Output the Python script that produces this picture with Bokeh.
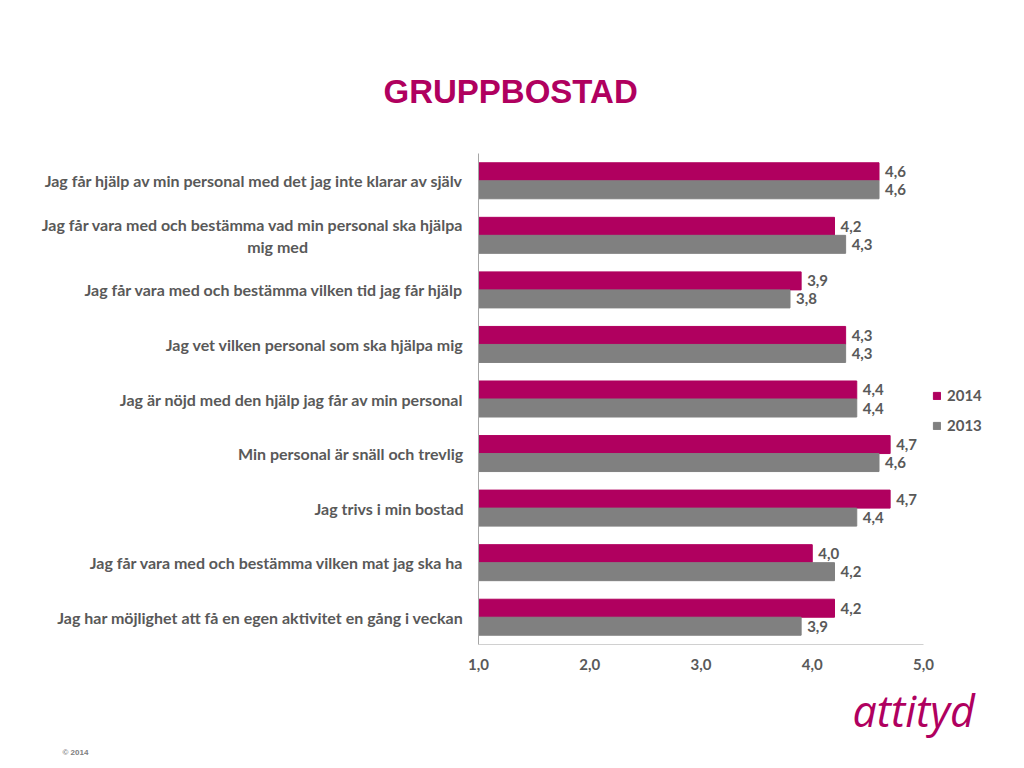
from bokeh.plotting import figure
from bokeh.models import (FactorRange, Range1d, FixedTicker, Title, Legend, LegendItem,
                          ColumnDataSource)
from bokeh.transform import dodge
from bokeh.core.properties import value
from bokeh.embed import file_html
from bokeh.resources import INLINE

title_text = "GRUPPBOSTAD"
categories = [
    "Jag får hjälp av min personal med det jag inte klarar av själv",
    "Jag får vara med och bestämma vad min personal ska hjälpa\nmig med",
    "Jag får vara med och bestämma vilken tid jag får hjälp",
    "Jag vet vilken personal som ska hjälpa mig",
    "Jag är nöjd med den hjälp jag får av min personal",
    "Min personal är snäll och trevlig",
    "Jag trivs i min bostad",
    "Jag får vara med och bestämma vilken mat jag ska ha",
    "Jag har möjlighet att få en egen aktivitet en gång i veckan",
]
values_2014 = [4.6, 4.2, 3.9, 4.3, 4.4, 4.7, 4.7, 4.0, 4.2]
values_2013 = [4.6, 4.3, 3.8, 4.3, 4.4, 4.6, 4.4, 4.2, 3.9]
series_names = ["2014", "2013"]
x_ticks = [1, 2, 3, 4, 5]
x_tick_labels = ["1,0", "2,0", "3,0", "4,0", "5,0"]
logo_text = "attityd"
copyright_text = "© 2014"

MAGENTA = "#B0005F"
GREY = "#808080"
TXT = "#595959"

# frame geometry (canvas px): value 1 at x=478, value 5 at x=923
FL, FT, FB = 478, 153, 644
PX_PER_UNIT = (923 - 478) / 4.0
X_END = 1 + (1024 - FL) / PX_PER_UNIT

def fmt(v):
    return f"{v:.1f}".replace(".", ",")

# displayed factor strings: centre the second line of the wrapped label
factors = [c.replace("\nmig med", "\nmig med" + "\u00a0" * 40) for c in categories]

src = ColumnDataSource(dict(
    cat=factors,
    v14=values_2014,
    v13=values_2013,
    t14=[fmt(v) for v in values_2014],
    t13=[fmt(v) for v in values_2013],
))

p = figure(width=1024, height=768, output_backend="svg", toolbar_location=None,
           y_range=FactorRange(factors=list(reversed(factors)), range_padding=0),
           x_range=Range1d(1, X_END),
           min_border_left=FL, min_border_right=0, min_border_top=FT,
           min_border_bottom=768 - FB)
p.y_range.factor_padding = 0
p.outline_line_color = None
p.xgrid.visible = False
p.ygrid.visible = False
p.background_fill_color = "white"
p.border_fill_color = "white"

r14 = p.hbar(y=dodge("cat", 0.165, range=p.y_range), left=1, right="v14", height=0.33,
             color=MAGENTA, source=src)
r13 = p.hbar(y=dodge("cat", -0.165, range=p.y_range), left=1, right="v13", height=0.33,
             color=GREY, source=src)

lab_font = value("Lato")
p.text(x="v14", y=dodge("cat", 0.165, range=p.y_range), text="t14", source=src,
       x_offset=6, text_baseline="middle", text_align="left", text_font=lab_font,
       text_font_style="bold", text_font_size="15px", text_color=TXT)
p.text(x="v13", y=dodge("cat", -0.165, range=p.y_range), text="t13", source=src,
       x_offset=6, text_baseline="middle", text_align="left", text_font=lab_font,
       text_font_style="bold", text_font_size="15px", text_color=TXT)

# axes
ya = p.yaxis[0]
ya.axis_line_color = "#A6A6A6"
ya.major_tick_line_color = None
ya.minor_tick_line_color = None
ya.major_tick_out = 0
ya.major_tick_in = 0
ya.major_label_text_font = "Lato"
ya.major_label_text_font_style = "bold"
ya.major_label_text_font_size = "16px"
ya.major_label_text_color = TXT
ya.major_label_standoff = 15
ya.major_label_text_align = "right"
ya.major_label_text_line_height = 1.15

xa = p.xaxis[0]
xa.ticker = FixedTicker(ticks=x_ticks)
xa.bounds = (1, 5)
xa.major_label_overrides = {t: l for t, l in zip(x_ticks, x_tick_labels)}
xa.axis_line_color = "#D0D0D0"
xa.major_tick_line_color = None
xa.minor_tick_line_color = None
xa.major_tick_out = 0
xa.major_tick_in = 0
xa.major_label_text_font = "Lato"
xa.major_label_text_font_style = "bold"
xa.major_label_text_font_size = "15px"
xa.major_label_text_color = TXT
xa.major_label_standoff = 14

legend = Legend(items=[LegendItem(label=series_names[0], renderers=[r14]),
                       LegendItem(label=series_names[1], renderers=[r13])],
                location=(932 - FL, FB - 435), orientation="vertical",
                glyph_width=9, glyph_height=9, spacing=10, label_height=20,
                label_standoff=6, padding=0, margin=0,
                border_line_color=None, background_fill_alpha=0,
                label_text_font="Lato", label_text_font_style="bold",
                label_text_font_size="15px", label_text_color=TXT)
p.add_layout(legend, "center")

# main title (above panel), offsets relative to frame left edge
p.title.text = title_text
p.title.align = "left"
p.title.offset = 383 - FL
p.title.text_font = "Liberation Sans"
p.title.text_font_style = "bold"
p.title.text_font_size = "33px"
p.title.text_color = MAGENTA
p.title.standoff = 88

p.add_layout(Title(text=logo_text, align="left", offset=852 - FL, standoff=12,
                   text_font="Open Sans", text_font_style="italic",
                   text_font_size="43px", text_color=MAGENTA), "below")
p.add_layout(Title(text=copyright_text, align="left", offset=62 - FL, standoff=0,
                   text_font="Liberation Sans", text_font_style="bold",
                   text_font_size="8px", text_color="#808080"), "below")

open("out.html", "w").write(file_html(p, INLINE))
